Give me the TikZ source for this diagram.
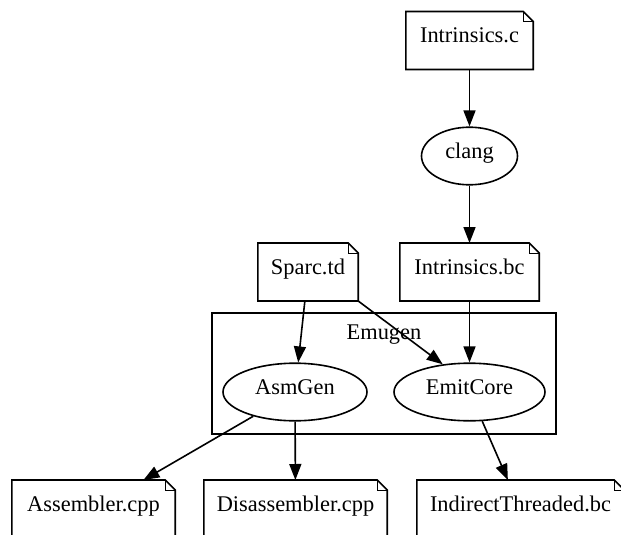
\documentclass[tikz,border=0pt]{standalone}
\usepackage{fontspec}
\setmainfont{Liberation Serif}
\usetikzlibrary{shapes.geometric,arrows.meta}
\begin{document}
\begin{tikzpicture}[x=1pt,y=-1pt,
  every node/.style={font=\fontsize{22.4}{26}\selectfont, inner sep=0pt, text height=0.7em, text depth=0.21em},
  notebox/.style={rectangle, minimum height=57.6pt},
  ovalnode/.style={ellipse, draw, line width=1.6pt, minimum height=57.6pt},
  conn/.style={line width=1.6pt, -{Triangle[length=16pt,width=12pt]}},
  clusterbox/.style={rectangle, draw, line width=1.6pt}
]
\useasboundingbox (0,0) rectangle (621,535);
\fill[white] (0,0) rectangle (621,535);
\clip (0,0) rectangle (621,535);

% cluster
\node[clusterbox, minimum width=344pt, minimum height=121pt] (emugen) at (384,373.5) {};
\node[anchor=base] (emugenlabel) at (384,339) {Emugen};

% nodes
\node[notebox, minimum width=127pt] (ic) at (469.5,40.5) {Intrinsics.c};
\node[ovalnode, minimum width=96pt] (clang) at (469.5,156) {clang};
\node[notebox, minimum width=139pt] (ibc) at (469.5,272) {Intrinsics.bc};
\node[notebox, minimum width=100pt] (sparc) at (308,272) {Sparc.td};
\node[ovalnode, minimum width=144pt] (asm) at (295,392) {AsmGen};
\node[ovalnode, minimum width=151pt] (emit) at (469.5,392) {EmitCore};
\node[notebox, minimum width=163pt] (asmcpp) at (93.5,509) {Assembler.cpp};
\node[notebox, minimum width=183pt] (disasm) at (295.5,509) {Disassembler.cpp};
\node[notebox, minimum width=207pt] (indirect) at (520.5,509) {IndirectThreaded.bc};

% note outlines
\foreach \n in {ic,ibc,sparc,asmcpp,disasm,indirect} {
  \draw[line width=1.6pt, line join=miter] (\n.north west) -- ([xshift=-10pt]\n.north east) -- ([yshift=-10pt]\n.north east) -- (\n.south east) -- (\n.south west) -- cycle;
  \draw[line width=1pt] ([xshift=-10pt]\n.north east) |- ([yshift=-10pt]\n.north east);
}

% edges
\draw[conn] (ic) -- (clang);
\draw[conn] (clang) -- (ibc);
\draw[conn] (sparc) -- (asm);
\draw[conn] (sparc.south east) -- (emit.134);
\draw[conn] (ibc) -- (emit);
\draw[conn] (asm) -- (asmcpp);
\draw[conn] (asm) -- (disasm);
\draw[conn] (emit) -- (indirect);
\end{tikzpicture}
\end{document}
